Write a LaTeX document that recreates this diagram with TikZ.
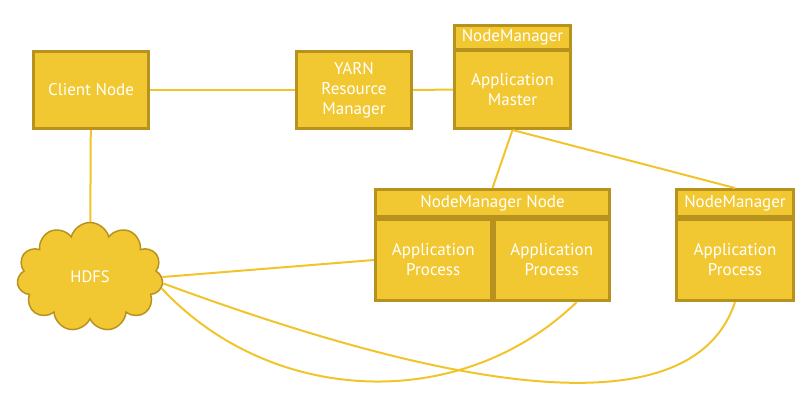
\documentclass[tikz,border=0pt]{standalone}
\usepackage{fontspec}
\setmainfont{PT Sans}
\usetikzlibrary{shapes,shapes.symbols,calc}
\definecolor{boxfill}{RGB}{242,200,50}
\definecolor{boxedge}{RGB}{184,146,31}
\definecolor{linkcol}{RGB}{242,196,44}
\tikzstyle{box} = [draw=boxedge, fill=boxfill, line width=3pt, text=white, align=center, inner sep=0pt, font=\fontsize{17}{20}\selectfont]
\tikzstyle{link} = [draw=linkcol, line width=2pt]

\begin{document}
\begin{tikzpicture} [x=1pt,y=-1pt]

		\useasboundingbox (0,0) rectangle (811,400);

		% top row
		\node [box, minimum width=115pt, minimum height=77pt] (client) at (91,90) {Client Node};
		\node [box, minimum width=115pt, minimum height=77pt] (yarn) at (354,90) {YARN\\Resource\\Manager};
		\node [box, minimum width=116pt, minimum height=23.5pt] (amhead) at (512.5,37.25) {NodeManager};
		\node [box, minimum width=116pt, minimum height=78pt] (ambody) at (512.5,89.5) {Application\\Master};

		% node managers
		\node [box, minimum width=234pt, minimum height=27pt] (nmnhead) at (492.5,203) {NodeManager Node};
		\node [box, minimum width=115.5pt, minimum height=81pt] (apleft) at (433.25,260) {Application\\Process};
		\node [box, minimum width=115.5pt, minimum height=81pt] (apright) at (551.75,260) {Application\\Process};
		\node [box, minimum width=117pt, minimum height=27pt] (nmhead) at (735,203) {NodeManager};
		\node [box, minimum width=117pt, minimum height=81pt] (nmbody) at (735,260) {Application\\Process};

		% storage
		\node [cloud, cloud puffs=11, cloud ignores aspect, draw=boxedge, fill=boxfill, line width=1.5pt, text=white, inner sep=0pt,
			minimum width=146pt, minimum height=109pt, font=\fontsize{16.5}{18}\selectfont] (hdfs) at (90,277) {HDFS};

		\draw [link] (client) -- (yarn);
		\draw [link] (yarn) -- (ambody);
		\draw [link] (client) -- (hdfs);
		\draw [link] (ambody.south) -- (nmnhead.north);
		\draw [link] (ambody.south) -- (nmhead.north);
		\draw [link] (hdfs.east) -- (apleft.west);
		\draw [link] (hdfs.-5) .. controls (430,382) and (690,438) .. (nmbody.south);
		\draw [link] (hdfs.-9) .. controls (270,405) and (460,415) .. ($(apright.south)+(25,0)$);

\end{tikzpicture}
\end{document}
